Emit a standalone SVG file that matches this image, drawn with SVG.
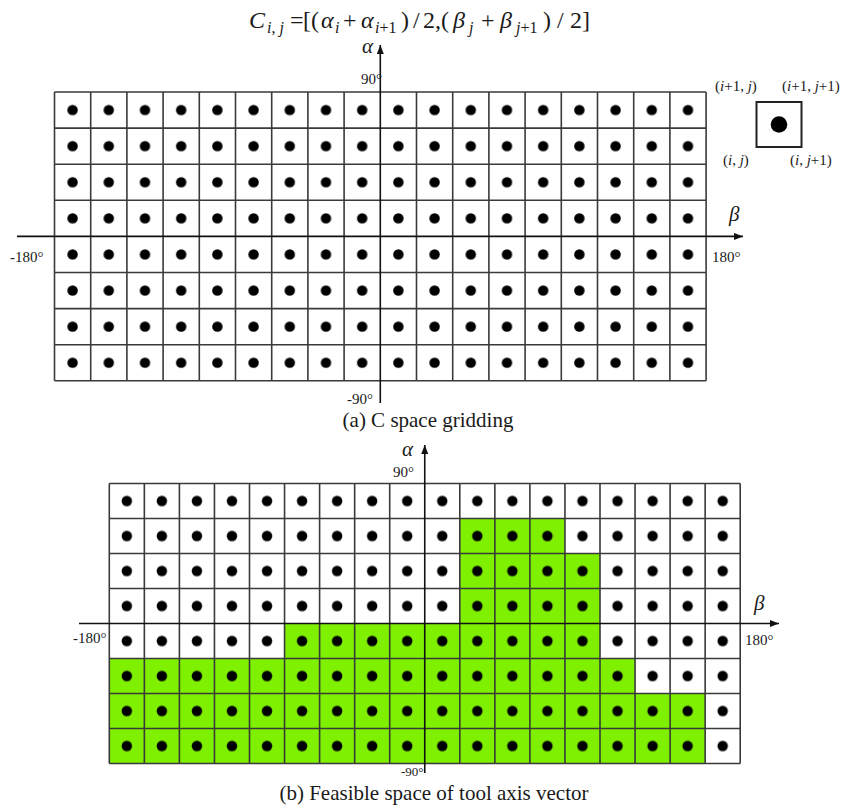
<svg xmlns="http://www.w3.org/2000/svg" width="858" height="811" viewBox="0 0 858 811">
<style>
text{font-family:"Liberation Serif","Times New Roman",serif;fill:#1a1a1a}
.it{font-style:italic}
.grid{fill:none;stroke:#3a3a3a;stroke-width:1.6}
.axis{fill:none;stroke:#111;stroke-width:1.6}
.lbl{font-size:15px}
.sub{font-size:15px}
.fs{font-size:16px}
.cap{font-size:21px}
.greek{font-size:21px;font-style:italic}
</style>
<defs>
<marker id="arr" markerUnits="userSpaceOnUse" markerWidth="10" markerHeight="8" refX="9" refY="3.5" orient="auto">
<path d="M0,0 L9,3.5 L0,7 z" fill="#111"/>
</marker>
<pattern id="dotsA" patternUnits="userSpaceOnUse" x="54.5" y="92" width="36.2" height="36.1">
<circle cx="18.1" cy="18.05" r="5.2" fill="#000"/>
</pattern>
<pattern id="dotsB" patternUnits="userSpaceOnUse" x="109.3" y="483.5" width="35.05" height="35">
<circle cx="17.525" cy="17.5" r="5.2" fill="#000"/>
</pattern>
</defs>
<rect width="858" height="811" fill="#fff"/>

<g id="formula" font-size="24">
<text x="249" y="28" class="it">C</text>
<text x="267" y="33" class="fs"><tspan class="it">i</tspan>, <tspan class="it">j</tspan></text>
<text x="290" y="28">=</text>
<text x="303" y="28">[(</text>
<text x="321" y="28" class="it">α</text>
<text x="335" y="33" class="fs it">i</text>
<text x="343" y="28">+</text>
<text x="361" y="28" class="it">α</text>
<text x="375" y="33" class="fs"><tspan class="it">i</tspan>+1</text>
<text x="401" y="28">)</text>
<text x="413" y="28">/</text>
<text x="423" y="28">2,(</text>
<text x="453" y="28" class="it">β</text>
<text x="469" y="33" class="fs it">j</text>
<text x="481" y="28">+</text>
<text x="500" y="28" class="it">β</text>
<text x="516" y="33" class="fs"><tspan class="it">j</tspan>+1</text>
<text x="543" y="28">)</text>
<text x="557" y="28">/</text>
<text x="570" y="28">2]</text>
</g>

<g id="gridA">
<rect x="54.5" y="92" width="651.6" height="288.8" fill="url(#dotsA)"/>
<path class="grid" d="M54.5,92V380.8M90.7,92V380.8M126.9,92V380.8M163.1,92V380.8M199.3,92V380.8M235.5,92V380.8M271.7,92V380.8M307.9,92V380.8M344.1,92V380.8M416.5,92V380.8M452.7,92V380.8M488.9,92V380.8M525.1,92V380.8M561.3,92V380.8M597.5,92V380.8M633.7,92V380.8M669.9,92V380.8M706.1,92V380.8M54.5,92H706.1M54.5,128.1H706.1M54.5,164.2H706.1M54.5,200.3H706.1M54.5,272.5H706.1M54.5,308.6H706.1M54.5,344.7H706.1M54.5,380.8H706.1"/>
</g>
<g id="axesA">
<line class="axis" x1="380.3" y1="403" x2="380.3" y2="45" marker-end="url(#arr)"/>
<line class="axis" x1="17" y1="236.4" x2="743" y2="236.4" marker-end="url(#arr)"/>
<text class="greek" x="362" y="53">α</text>
<text class="lbl" x="361" y="84">90°</text>
<text class="lbl" x="347" y="404">-90°</text>
<text class="lbl" x="10" y="262">-180°</text>
<text class="lbl" x="712" y="262">180°</text>
<text class="greek" x="729" y="221">β</text>
</g>
<g id="cell-inset">
<rect x="756.5" y="102" width="45" height="45" fill="none" stroke="#222" stroke-width="2"/>
<circle cx="779" cy="124.5" r="8.3" fill="#000"/>
<text class="sub" x="715" y="91">(<tspan class="it">i</tspan>+1, <tspan class="it">j</tspan>)</text>
<text class="sub" x="782" y="91">(<tspan class="it">i</tspan>+1, <tspan class="it">j</tspan>+1)</text>
<text class="sub" x="723" y="165">(<tspan class="it">i</tspan>, <tspan class="it">j</tspan>)</text>
<text class="sub" x="790" y="165">(<tspan class="it">i</tspan>, <tspan class="it">j</tspan>+1)</text>
</g>
<text class="cap" x="428" y="427" text-anchor="middle">(a) C space gridding</text>

<g id="gridB">
<path d="M459.8,518.5H564.95V553.5H600V658.5H635.05V693.5H705.15V763.5H109.3V658.5H284.55V623.5H459.8Z" fill="#7ff000"/>
<rect x="109.3" y="483.5" width="630.9" height="280" fill="url(#dotsB)"/>
<path class="grid" d="M109.3,483.5V763.5M144.35,483.5V763.5M179.4,483.5V763.5M214.45,483.5V763.5M249.5,483.5V763.5M284.55,483.5V763.5M319.6,483.5V763.5M354.65,483.5V763.5M389.7,483.5V763.5M459.8,483.5V763.5M494.85,483.5V763.5M529.9,483.5V763.5M564.95,483.5V763.5M600,483.5V763.5M635.05,483.5V763.5M670.1,483.5V763.5M705.15,483.5V763.5M740.2,483.5V763.5M109.3,483.5H740.2M109.3,518.5H740.2M109.3,553.5H740.2M109.3,588.5H740.2M109.3,658.5H740.2M109.3,693.5H740.2M109.3,728.5H740.2M109.3,763.5H740.2"/>
</g>
<g id="axesB">
<line class="axis" x1="424.75" y1="773" x2="424.75" y2="445" marker-end="url(#arr)"/>
<line class="axis" x1="79" y1="623.5" x2="779" y2="623.5" marker-end="url(#arr)"/>
<text class="greek" x="402" y="456">α</text>
<text class="lbl" x="393" y="477">90°</text>
<text x="401" y="776" font-size="13">-90°</text>
<text class="lbl" x="73" y="643">-180°</text>
<text class="lbl" x="745" y="645">180°</text>
<text class="greek" x="754" y="610">β</text>
</g>
<text class="cap" x="434" y="800" text-anchor="middle">(b) Feasible space of tool axis vector</text>
</svg>
